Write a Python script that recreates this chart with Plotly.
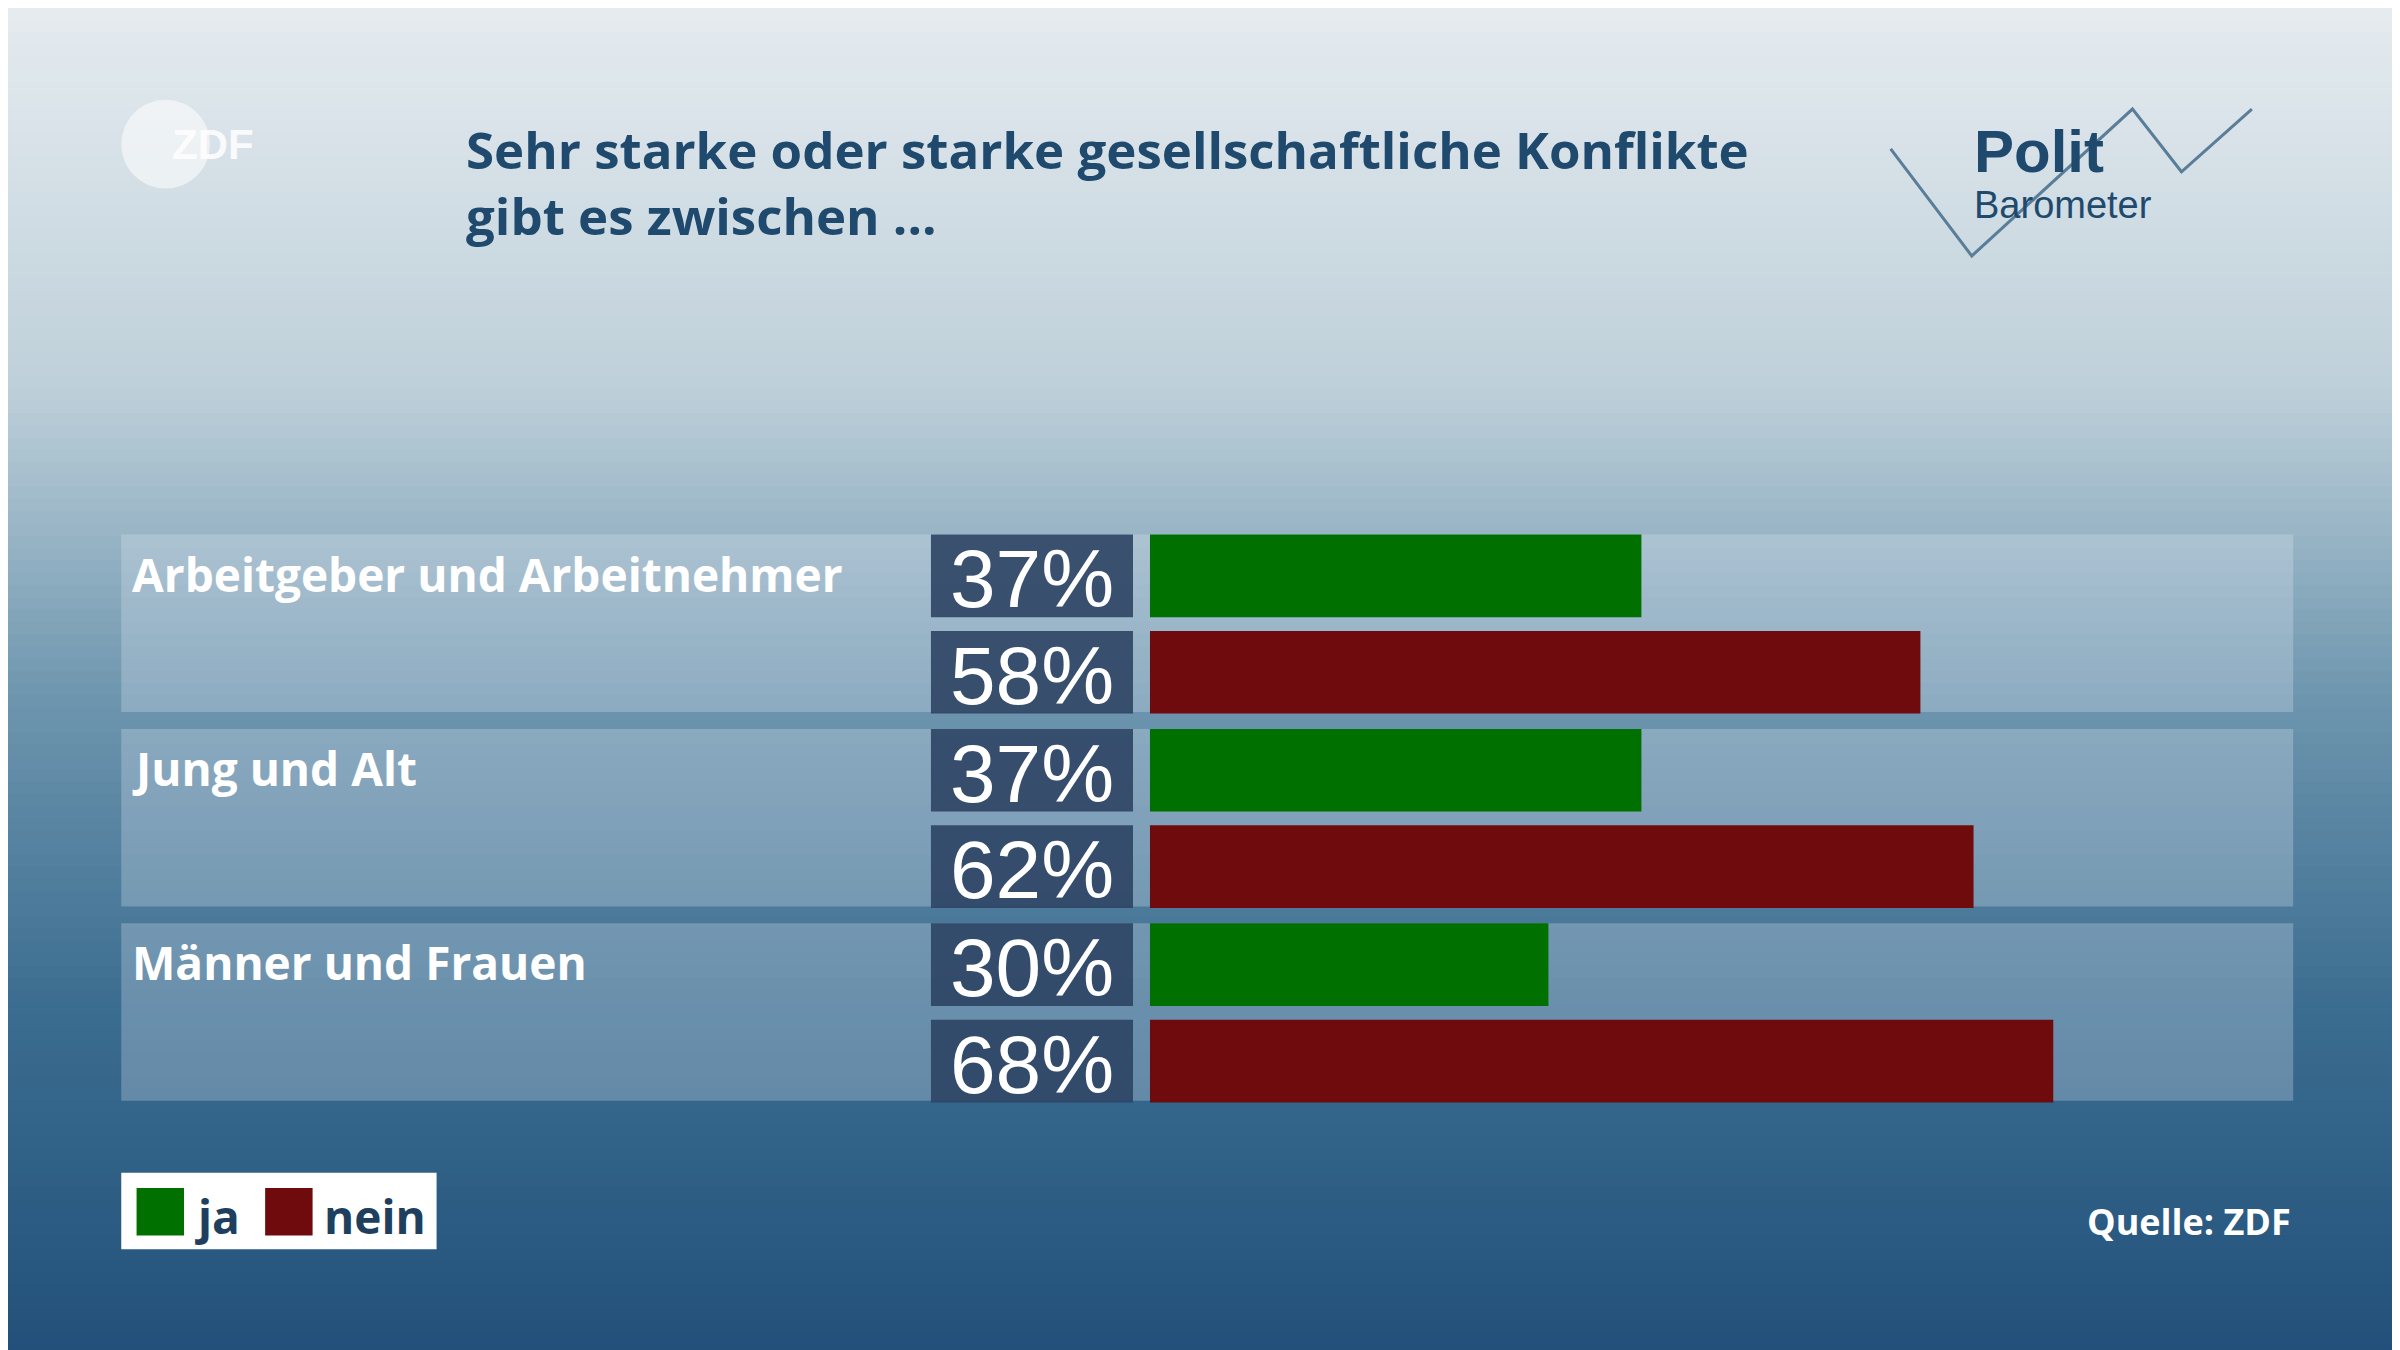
import plotly.graph_objects as go

groups = ["Arbeitgeber und Arbeitnehmer", "Jung und Alt", "Männer und Frauen"]
ja = [37, 37, 30]
nein = [58, 62, 68]
title = "Sehr starke oder starke gesellschaftliche Konflikte<br>gibt es zwischen ..."
W, H = 2400, 1350
DW, DH = 1568, 882
def px(x): return x / DW
def py(y): return 1 - y / DH

shapes, ann = [], []
stops = [(0, (230, 236, 240)), (250, (190, 208, 218)), (450, (110, 150, 175)), (650, (60, 110, 145)), (882, (34, 80, 122))]
N = 110
for i in range(N):
    y0 = DH * i / N; y1 = DH * (i + 1) / N; ym = (y0 + y1) / 2
    for (a, ca), (b, cb) in zip(stops, stops[1:]):
        if a <= ym <= b:
            t = (ym - a) / (b - a)
            c = tuple(int(ca[k] + (cb[k] - ca[k]) * t) for k in range(3))
    shapes.append(dict(type="rect", xref="paper", yref="paper", x0=0, x1=1, y0=py(y1) - 0.001, y1=py(y0),
                       fillcolor="rgb(%d,%d,%d)" % c, line_width=0, layer="below"))

def A(x, y, text, xa="left", ya="middle", **font):
    ann.append(dict(xref="paper", yref="paper", x=px(x), y=py(y), xanchor=xa, yanchor=ya, text=text,
                    showarrow=False, align="left", font=font))

yj, yn = [], []
for g in range(3):
    top = 344 + 127 * g
    shapes.append(dict(type="rect", xref="paper", yref="paper", x0=px(74), x1=px(1493), y0=py(top + 116), y1=py(top),
                       fillcolor="rgba(225,235,245,0.28)", line_width=0, layer="below"))
    for s in range(2):
        y0 = top + 63 * s
        shapes.append(dict(type="rect", xref="paper", yref="paper", x0=px(603), x1=px(735), y0=py(y0 + 54), y1=py(y0),
                           fillcolor="rgba(45,68,100,0.9)", line_width=0, layer="below"))
        v = ja[g] if s == 0 else nein[g]
        A(669, y0 + 29, f"{v}%", xa="center", family="Liberation Sans", size=82, color="white")
    yj.append(top + 27); yn.append(top + 90)
    A(80, top + 4, groups[g], ya="top", family="Open Sans", size=46, color="white", weight="bold")

fig = go.Figure()
fig.add_bar(x=ja, y=yj, orientation="h", width=54, marker=dict(color="#007000", line_width=0), name="ja")
fig.add_bar(x=nein, y=yn, orientation="h", width=54, marker=dict(color="#6f0b0d", line_width=0), name="nein")

A(298, 68, title, ya="top", family="Open Sans", size=51, color="#1f4a6e", weight="bold")
shapes.append(dict(type="rect", xref="paper", yref="paper", x0=px(74), x1=px(280), y0=py(811), y1=py(761), fillcolor="white", line_width=0))
shapes.append(dict(type="rect", xref="paper", yref="paper", x0=px(84), x1=px(115), y0=py(802), y1=py(771), fillcolor="#007000", line_width=0))
shapes.append(dict(type="rect", xref="paper", yref="paper", x0=px(168), x1=px(199), y0=py(802), y1=py(771), fillcolor="#6f0b0d", line_width=0))
A(121, 789, "ja", family="Open Sans", size=46, color="#1f3f5e", weight="bold")
A(205, 789, "nein", family="Open Sans", size=46, color="#1f3f5e", weight="bold")
A(1493, 793, "Quelle: ZDF", xa="right", family="Open Sans", size=36, color="white", weight="bold")
shapes.append(dict(type="circle", xref="paper", yref="paper", x0=px(74), x1=px(132), y0=py(118), y1=py(60),
                   fillcolor="rgba(255,255,255,0.55)", line_width=0))
A(106, 89, "ZDF", family="Liberation Sans", size=42, color="rgba(255,255,255,0.85)", weight="bold")
pts = [(1230, 92), (1283, 162), (1388, 66), (1420, 107), (1466, 66)]
path = "M " + " L ".join(f"{px(x)},{py(y)}" for x, y in pts)
shapes.append(dict(type="path", xref="paper", yref="paper", path=path, line=dict(color="#5a7d98", width=3)))
A(1283, 94, "Polit", family="Liberation Sans", size=60, color="#1f4a6e", weight="bold")
A(1283, 129, "Barometer", family="Liberation Sans", size=38, color="#1f4a6e")

fig.update_layout(width=W, height=H, margin=dict(l=0, r=0, t=0, b=0), showlegend=False,
                  paper_bgcolor="#2a5a85", plot_bgcolor="rgba(0,0,0,0)", shapes=shapes, annotations=ann, barmode="overlay",
                  xaxis=dict(domain=[px(746), px(1493)], range=[0, (1493 - 746) / 8.68], visible=False),
                  yaxis=dict(domain=[0, 1], range=[DH, 0], visible=False))
fig.write_html("out.html")
